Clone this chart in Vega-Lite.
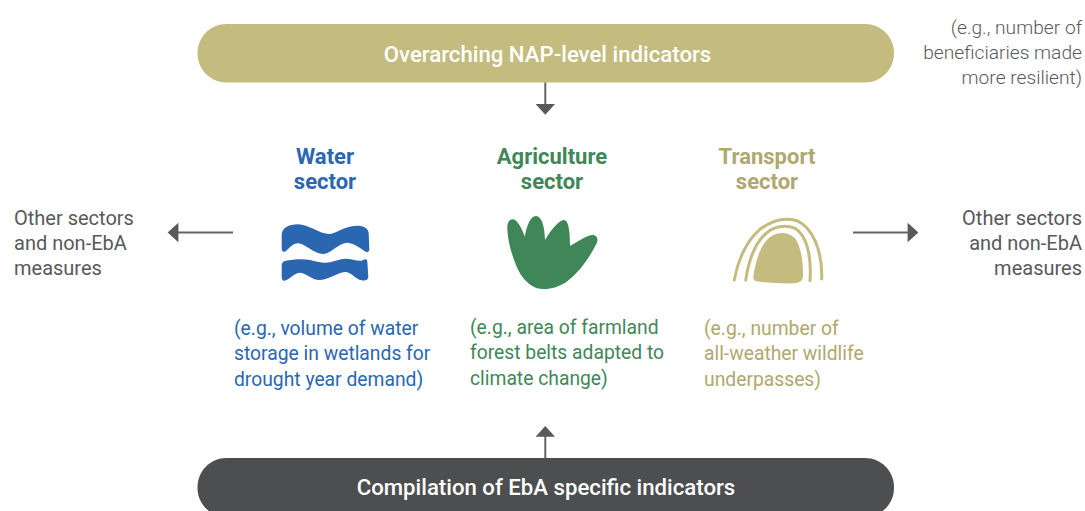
{
"$schema":"https://vega.github.io/schema/vega-lite/v6.json",
"autosize":{"type":"fit","contains":"padding"},"width":1085,"height":511,"padding":0,
"background":"#ffffff",
"config":{"view":{"stroke":null},"font":"Roboto"},
"resolve":{"scale":{"shape":"independent"}},
"encoding":{
 "x":{"field":"x","type":"quantitative","axis":null,"scale":{"domain":[0,1085],"nice":false,"zero":false}},
 "y":{"field":"y","type":"quantitative","axis":null,"scale":{"domain":[511,0],"nice":false,"zero":false}},
 "color":{"field":"group","type":"nominal","legend":null,"scale":{"domain":["water","agriculture","transport","nap","eba","grey"],"range":["#2a67b0","#3f8759","#b0a86e","#c4bb7e","#4d4e50","#58595b"]}}
},
"layer":[
 {"data":{"values":[{"name":"NAP","group":"nap","x":197.5,"x2":894,"y":24,"y2":82.5},{"name":"EbA","group":"eba","x":197.5,"x2":894,"y":458,"y2":517}]},
  "mark":{"type":"rect","cornerRadius":29,"clip":true},
  "encoding":{"x2":{"field":"x2"},"y2":{"field":"y2"}}},
 {"data":{"values":[{"dir":"down","x":545.3,"x2":545.3,"y":82.5,"y2":105},{"dir":"up","x":545.3,"x2":545.3,"y":436,"y2":458},{"dir":"left","x":233,"x2":177,"y":232.5,"y2":232.5},{"dir":"right","x":853,"x2":909,"y":232.5,"y2":232.5}]},
  "mark":{"type":"rule","strokeWidth":2,"color":"#636466"},
  "encoding":{"x2":{"field":"x2"},"y2":{"field":"y2"},"color":{"value":"#636466"}}},
 {"data":{"values":[{"dir":"down","x":545.3,"y":109.35},{"dir":"up","x":545.3,"y":431.35},{"dir":"left","x":173,"y":232.5},{"dir":"right","x":913,"y":232.5}]},
  "mark":{"type":"point","filled":true,"opacity":1,"size":4,"stroke":null},
  "encoding":{"color":{"value":"#58595b"},"shape":{"field":"dir","type":"nominal","legend":null,"scale":{"domain":["down","up","left","right"],"range":["M-9.7,-5.35L9.7,-5.35L0,5.35Z","M-9.7,5.35L9.7,5.35L0,-5.35Z","M5.35,-9.8L5.35,9.8L-5.35,0Z","M-5.35,-9.8L-5.35,9.8L5.35,0Z"]}}}},
 {"data":{"values":[{"group":"water","icon":"wave","x":220,"y":200},{"group":"agriculture","icon":"leaf","x":220,"y":200},{"group":"nap","icon":"tunnel","x":700,"y":200}]},
  "mark":{"type":"point","filled":true,"opacity":1,"size":4,"stroke":null},
  "encoding":{"shape":{"field":"icon","type":"nominal","legend":null,"scale":{"domain":["wave","leaf","tunnel"],"range":[
   "M61.7,35C61.7,28.3 68.3,24.3 78.3,24.3C88.3,24.3 98.3,33.3 108.3,34C116.7,34 123.3,26 136.7,25.7C144,25.7 148.3,28.3 148.7,33.3L149.3,49.3C149.3,52.7 146.7,52.7 144,50.7C138.3,46.7 132.7,42.7 126.7,42.7C118.3,43.3 111.7,53.3 103.3,54C93.3,54 85,43.3 78.3,43.3C71.7,43.3 68.3,50 65,51.7C62.7,52.3 61.7,50.7 61.7,48.3ZM61.7,65C62,61.7 65,60.7 68.3,60.3C75,59.3 83.3,58.7 90,60C96.7,61.7 103.3,63.7 110,62.3C115,61.3 120,58.7 125,58.7C131.7,58.7 136.7,61.3 141.7,60.7C144,59.3 146.7,58 147.3,61L148.3,76.7C148.3,80 145,81 141.7,80.3C135,79.3 131.7,72 125,72C116.7,72.7 110,79.3 100,80C91.7,80.3 86.7,73 80,72.7C74,72.7 69.3,80 64.3,80.7C62.3,80.7 61.7,78.7 61.7,76.7Z",
   "M287.3,26.7C287.3,20.7 291.7,17.3 296,20.7C300,24 302.7,31.7 305,36.7C306,28.3 310,16 316,16C321.7,16 324.7,26.7 325,40C330,31.7 338.3,20 344,20C348.3,20 350,30 350,45.7C356.7,42.7 366.7,35 372.7,35C376.7,35 378.7,39 376.7,43.3C370,56.7 360,71.7 346.7,81.7C338.3,87.3 328.3,90 320,88.7C310,87.3 301.7,78.3 296.7,66.7C291.7,55 287.3,40 287.3,26.7Z",
   "M53.3,77.3C55,63.3 60,43.3 71.7,36C78.3,31.7 87.3,31.7 94,37.3C100.7,44 103.3,61.7 103,76C102.7,81 99.3,83.3 93.3,83.3C83.3,83.7 71.7,82.7 61.7,82C56,81.7 53.3,81 53.3,77.3Z"]}}}},
 {"data":{"values":[{"group":"nap","arc":"outer","x":700,"y":200},{"group":"nap","arc":"inner","x":700,"y":200}]},
  "mark":{"type":"point","filled":false,"opacity":1,"size":4,"strokeWidth":3,"strokeCap":"round"},
  "encoding":{"shape":{"field":"arc","type":"nominal","legend":null,"scale":{"domain":["outer","inner"],"range":["M34.3,80C37.3,63.3 45,41.7 60,29.3C71.7,20.7 85,17.3 96.7,20.7C111.7,26.7 122.7,50 121.7,79","M45.7,80C48.3,63.3 53.3,45 65,34.3C73.3,26.7 85,24 95,28.3C106.7,35 111.7,56.7 110,80.7"]}}}},
 {"data":{"values":[{"t":"Overarching NAP-level indicators","x":547.5,"y":54.5},{"t":"Compilation of EbA specific indicators","x":546,"y":487.5}]},
  "mark":{"type":"text","fontSize":22.2,"fontWeight":500,"align":"center","baseline":"middle","font":"Roboto"},
  "encoding":{"text":{"field":"t"},"color":{"value":"#ffffff"}}},
 {"data":{"values":[{"t":"Water","group":"water","x":325,"y":156.5},{"t":"sector","group":"water","x":325,"y":181.5},{"t":"Agriculture","group":"agriculture","x":552,"y":156.5},{"t":"sector","group":"agriculture","x":552,"y":181.5},{"t":"Transport","group":"transport","x":767,"y":156.5},{"t":"sector","group":"transport","x":767,"y":181.5}]},
  "mark":{"type":"text","fontSize":22,"fontWeight":700,"align":"center","baseline":"middle","font":"Roboto"},
  "encoding":{"text":{"field":"t"}}},
 {"data":{"values":[{"t":"(e.g., volume of water","group":"water","x":234,"y":328.5},{"t":"storage in wetlands for","group":"water","x":234,"y":353.5},{"t":"drought year demand)","group":"water","x":234,"y":379.5},{"t":"(e.g., area of farmland","group":"agriculture","x":470,"y":327.5},{"t":"forest belts adapted to","group":"agriculture","x":470,"y":352.5},{"t":"climate change)","group":"agriculture","x":470,"y":378.5},{"t":"(e.g., number of","group":"transport","x":704,"y":328.5},{"t":"all-weather wildlife","group":"transport","x":704,"y":353.5},{"t":"underpasses)","group":"transport","x":704,"y":379.5}]},
  "mark":{"type":"text","fontSize":19.3,"fontWeight":400,"align":"left","baseline":"middle","font":"Roboto"},
  "encoding":{"text":{"field":"t"}}},
 {"data":{"values":[{"t":"Other sectors","group":"grey","x":14,"y":218.5},{"t":"and non-EbA","group":"grey","x":14,"y":243.5},{"t":"measures","group":"grey","x":14,"y":268.5}]},
  "mark":{"type":"text","fontSize":20,"fontWeight":400,"align":"left","baseline":"middle","font":"Roboto"},
  "encoding":{"text":{"field":"t"}}},
 {"data":{"values":[{"t":"Other sectors","group":"grey","x":1082,"y":218.5},{"t":"and non-EbA","group":"grey","x":1082,"y":243.5},{"t":"measures","group":"grey","x":1082,"y":268.5}]},
  "mark":{"type":"text","fontSize":20,"fontWeight":400,"align":"right","baseline":"middle","font":"Roboto"},
  "encoding":{"text":{"field":"t"}}},
 {"data":{"values":[{"t":"(e.g., number of","group":"grey","x":1082,"y":27.5},{"t":"beneficiaries made","group":"grey","x":1082,"y":52.5},{"t":"more resilient)","group":"grey","x":1082,"y":77.5}]},
  "mark":{"type":"text","fontSize":19.2,"fontWeight":300,"align":"right","baseline":"middle","font":"Roboto"},
  "encoding":{"text":{"field":"t"}}}
]
}
